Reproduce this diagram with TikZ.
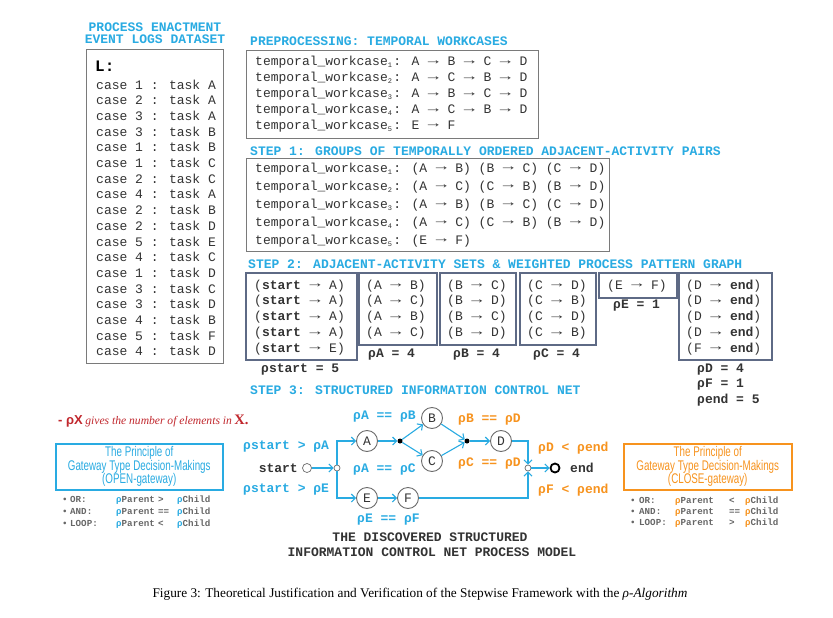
\documentclass[tikz,border=0pt]{standalone}
\usepackage{fontspec}
\usepackage{graphicx}
\setmainfont{Liberation Serif}
\newfontfamily\monof{Liberation Mono}
\newfontfamily\narrowf[FakeStretch=0.7]{Liberation Sans}
\newfontfamily\sansf{Liberation Sans}
\usetikzlibrary{arrows.meta}
\definecolor{cy}{HTML}{29ABE2}
\definecolor{orng}{HTML}{F7931E}
\definecolor{rednote}{HTML}{C1272D}
\definecolor{txt}{HTML}{333333}
\definecolor{boxgray}{HTML}{7A7A7A}
\definecolor{boxblue}{HTML}{5E6A85}
\newcommand{\wsub}[1]{\raisebox{-2pt}{\makebox[5.5pt][l]{\fontsize{7}{7}\selectfont #1}}}
\newcommand{\tw}[1]{temporal\_workcase\wsub{#1}:}
\newcommand{\ra}{\makebox[12.6pt]{\raisebox{1.2pt}{\scalebox{1.4}[1]{→}}}}
\tikzset{
  line/.style={font=\monof\fontsize{13}{13}\selectfont, text=txt, inner sep=0pt, anchor=base west},
  head/.style={font=\monof\bfseries\fontsize{13}{13}\selectfont, text=cy, inner sep=0pt, anchor=base west},
  rho/.style={font=\monof\bfseries\fontsize{13}{13}\selectfont, text=txt, inner sep=0pt, anchor=base west},
  cyl/.style={rho, text=cy},
  orl/.style={rho, text=orng},
  graybox/.style={draw=boxgray, line width=1.3pt, anchor=north west, inner sep=0pt},
  bluebox/.style={draw=boxblue, line width=1.5pt, anchor=north west, inner sep=0pt},
  place/.style={circle, draw=gray!85!black, line width=0.9pt, fill=white, minimum size=21pt, inner sep=0pt, font=\monof\fontsize{13}{13}\selectfont, text=txt},
  tinyc/.style={circle, draw=gray!85!black, line width=0.7pt, fill=white, minimum size=6pt, inner sep=0pt},
  dotn/.style={circle, fill=black, minimum size=5pt, inner sep=0pt},
  flow/.style={draw=cy, line width=1.1pt, -{Straight Barb[length=4pt,width=8pt]}},
  princ/.style={font=\narrowf\fontsize{14}{13.5}\selectfont, align=center, inner sep=0pt},
  bul/.style={font=\monof\bfseries\fontsize{9.2}{9.2}\selectfont, text=gray!80!black, inner sep=0pt, anchor=base west},
}
\begin{document}
\begin{tikzpicture}[x=1pt,y=-1pt]
\path[fill=white] (0,0) rectangle (833,618);
\useasboundingbox (0,0) rectangle (833,618);

% ---------- event log ----------
\node[head, anchor=base] (h1a) at (155,32) {PROCESS ENACTMENT};
\node[head, anchor=base] (h1b) at (155,44) {EVENT LOGS DATASET};
\node[graybox, minimum width=137, minimum height=314] (Lbox) at (86,49) {};
\node[font=\monof\bfseries\fontsize{16}{16}\selectfont, text=black, inner sep=0pt, anchor=base west] (Lname) at (95,72) {L:};
\foreach \c/\t [count=\i] in {1/A,2/A,3/A,3/B,1/B,1/C,2/C,4/A,2/B,2/D,5/E,4/C,1/D,3/C,3/D,4/B,5/F,4/D}
  \node[line] (case\i) at (96,{89+(\i-1)*15.7}) {case \c\ : task \t};

% ---------- preprocessing ----------
\node[head] (h2) at (250,46) {PREPROCESSING: TEMPORAL WORKCASES};
\node[graybox, minimum width=292, minimum height=88] (prebox) at (246,50) {};
\node[line] (p1) at (255,66.0) {\tw{1} A \ra{} B \ra{} C \ra{} D};
\node[line] (p2) at (255,81.8) {\tw{2} A \ra{} C \ra{} B \ra{} D};
\node[line] (p3) at (255,97.6) {\tw{3} A \ra{} B \ra{} C \ra{} D};
\node[line] (p4) at (255,113.4) {\tw{4} A \ra{} C \ra{} B \ra{} D};
\node[line] (p5) at (255,129.2) {\tw{5} E \ra{} F};

% ---------- step 1 ----------
\node[head] (h3) at (250,155) {STEP 1: GROUPS OF TEMPORALLY ORDERED ADJACENT-ACTIVITY PAIRS};
\node[graybox, minimum width=363, minimum height=93] (s1box) at (246,158) {};
\node[line] (q1) at (255,172) {\tw{1} (A \ra{} B) (B \ra{} C) (C \ra{} D)};
\node[line] (q2) at (255,190) {\tw{2} (A \ra{} C) (C \ra{} B) (B \ra{} D)};
\node[line] (q3) at (255,208) {\tw{3} (A \ra{} B) (B \ra{} C) (C \ra{} D)};
\node[line] (q4) at (255,226) {\tw{4} (A \ra{} C) (C \ra{} B) (B \ra{} D)};
\node[line] (q5) at (255,244) {\tw{5} (E \ra{} F)};

% ---------- step 2 ----------
\node[head] (h4) at (248,268) {STEP 2: ADJACENT-ACTIVITY SETS \& WEIGHTED PROCESS PATTERN GRAPH};
\node[bluebox, minimum width=111, minimum height=87] (bS) at (245,272) {};
\node[bluebox, minimum width=78, minimum height=72] (bA) at (358,272) {};
\node[bluebox, minimum width=76, minimum height=72] (bB) at (439,272) {};
\node[bluebox, minimum width=76, minimum height=72] (bC) at (519,272) {};
\node[bluebox, minimum width=78, minimum height=25] (bEF) at (598,272) {};
\node[bluebox, minimum width=93, minimum height=87] (bD) at (678,272) {};
\foreach \y [count=\i] in {289,304.75,320.5,336.25,352} {
  \node[line] (sa\i) at (254,\y) {({\bfseries start} \ra{} \ifnum\i=5 E\else A\fi)};
  \node[line] (de\i) at (686,\y) {(\ifnum\i=5 F\else D\fi\ \ra{} {\bfseries end})};
}
\foreach \y/\a/\b/\c [count=\i] in {289/B/C/D,304.75/C/D/B,320.5/B/C/D,336.25/C/D/B} {
  \node[line] (ab\i) at (366,\y) {(A \ra{} \a)};
  \node[line] (bc\i) at (447,\y) {(B \ra{} \b)};
  \node[line] (cd\i) at (527,\y) {(C \ra{} \c)};
}
\node[line] (ef1) at (607,289) {(E \ra{} F)};
\node[rho] (rs) at (261,372) {ρstart = 5};
\node[rho] (ra) at (368,357) {ρA = 4};
\node[rho] (rb) at (453,357) {ρB = 4};
\node[rho] (rc) at (533,357) {ρC = 4};
\node[rho] (re) at (613,308) {ρE = 1};
\node[rho] (rd) at (697,372) {ρD = 4};
\node[rho] (rf) at (697,387) {ρF = 1};
\node[rho] (rend) at (697,403) {ρend = 5};

% ---------- step 3 ----------
\node[head] (h5) at (250,394) {STEP 3: STRUCTURED INFORMATION CONTROL NET};

\node[inner sep=0pt, anchor=base west, text=rednote] (note) at (58,424)
  {{\sansf\bfseries\fontsize{13}{13}\selectfont - ρX}\ {\itshape\fontsize{11.6}{11.6}\selectfont gives the number of elements in} {\bfseries\fontsize{14.5}{14.5}\selectfont X.}};

% principle boxes
\node[draw=cy, line width=1.5pt, minimum width=167, minimum height=46, anchor=north west, inner sep=0pt] (openbox) at (55,443) {};
\node[princ, text=cy] (opentxt) at (openbox.center) {The Principle of\\Gateway Type Decision-Makings\\(OPEN-gateway)};
\node[draw=orng, line width=1.5pt, minimum width=168, minimum height=46, anchor=north west, inner sep=0pt] (closebox) at (623,443) {};
\node[princ, text=orng] (closetxt) at (closebox.center) {The Principle of\\Gateway Type Decision-Makings\\(CLOSE-gateway)};

\foreach \lab/\op/\y [count=\i] in {OR:/>/502,AND:/==/514,LOOP:/</526} {
  \node[bul] (ob\i) at (62,\y) {•};
  \node[bul] (ol\i) at (70,\y) {\lab};
  \node[bul] (op\i) at (116,\y) {\textcolor{cy}{ρ}Parent};
  \node[bul] (oo\i) at (158,\y) {\op};
  \node[bul] (oc\i) at (177,\y) {\textcolor{cy}{ρ}Child};
}
\foreach \lab/\op/\y [count=\i] in {OR:/</503,AND:/==/514,LOOP:/>/525} {
  \node[bul] (cb\i) at (630,\y) {•};
  \node[bul] (cl\i) at (639,\y) {\lab};
  \node[bul] (cp\i) at (675,\y) {\textcolor{orng}{ρ}Parent};
  \node[bul] (co\i) at (729,\y) {\op};
  \node[bul] (cc\i) at (745,\y) {\textcolor{orng}{ρ}Child};
}

% network
\node[tinyc, minimum size=9pt] (startc) at (307,468) {};
\node[tinyc] (split) at (337,468) {};
\node[place] (A) at (367,441) {A};
\node[dotn] (dot1) at (400,441) {};
\node[place] (B) at (432,418) {B};
\node[place] (C) at (432,461) {C};
\node[dotn] (dot2) at (467,441) {};
\node[place] (D) at (501,441) {D};
\node[tinyc] (join) at (528,468) {};
\node[circle, draw=black, line width=1.8pt, minimum size=9pt, inner sep=0pt] (endc) at (555,468) {};
\node[place] (E) at (367,498) {E};
\node[place] (F) at (408,498) {F};

\draw[flow] (startc) -- (split);
\draw[flow] (split) |- (A);
\draw[flow] (split) |- (E);
\draw[flow] (A) -- (dot1);
\draw[flow] (dot1) -- (B);
\draw[flow] (dot1) -- (C);
\draw[flow] (B) -- (dot2);
\draw[flow] (C) -- (dot2);
\draw[flow] (dot2) -- (D);
\draw[flow] (D) -| (join);
\draw[flow] (F) -| (join);
\draw[flow] (E) -- (F);
\draw[flow] (join) -- (endc);

\node[rho, anchor=base east] (startl) at (298,472) {start};
\node[rho] (endl) at (570,472) {end};
\node[cyl] (l1) at (243,449) {ρstart > ρA};
\node[cyl] (l2) at (243,492) {ρstart > ρE};
\node[cyl] (l3) at (353,419) {ρA == ρB};
\node[cyl] (l4) at (353,472) {ρA == ρC};
\node[cyl] (l5) at (357,522) {ρE == ρF};
\node[orl] (l6) at (458,422) {ρB == ρD};
\node[orl] (l7) at (458,466) {ρC == ρD};
\node[orl] (l8) at (538,451) {ρD < ρend};
\node[orl] (l9) at (538,493) {ρF < ρend};

\node[rho, anchor=base, text=txt] (t1) at (430,541) {THE DISCOVERED STRUCTURED};
\node[rho, anchor=base, text=txt] (t2) at (432,556) {INFORMATION CONTROL NET PROCESS MODEL};

% caption
\node[inner sep=0pt, anchor=base, font=\fontsize{13.3}{13.3}\selectfont] (cap) at (420,597)
  {Figure 3: Theoretical Justification and Verification of the Stepwise Framework with the \textit{ρ-Algorithm}};
\end{tikzpicture}
\end{document}
